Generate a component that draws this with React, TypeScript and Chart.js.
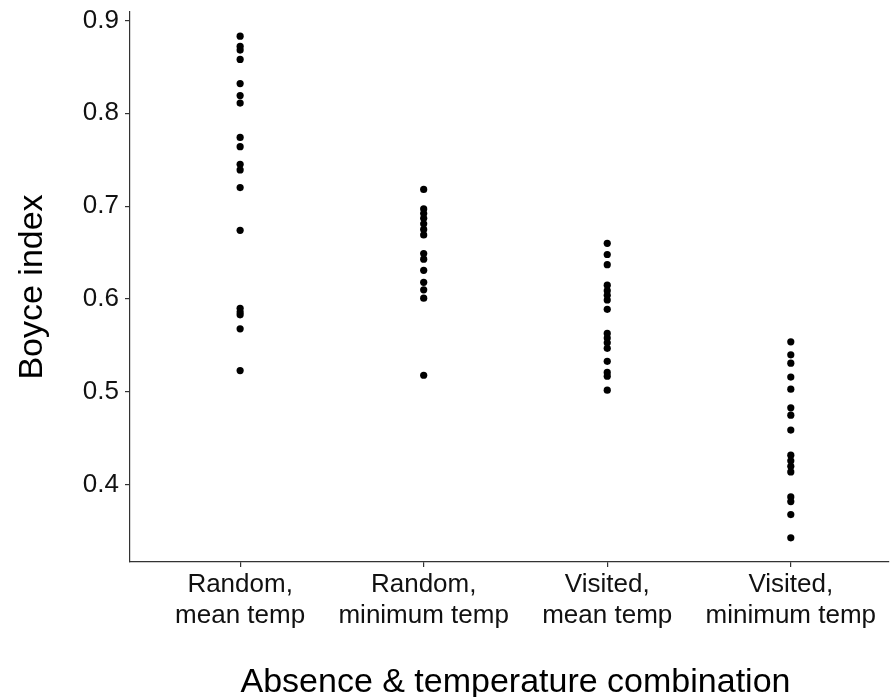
import React, { useEffect, useRef } from "react";
import { Chart, registerables } from "chart.js";

Chart.register(...registerables);

const categories = ["Random,\nmean temp", "Random,\nminimum temp", "Visited,\nmean temp", "Visited,\nminimum temp"];

const randomMean = [0.883, 0.872, 0.868, 0.858, 0.832, 0.819, 0.811, 0.774, 0.764, 0.745, 0.739, 0.720, 0.674, 0.590, 0.586, 0.583, 0.568, 0.523];
const randomMin = [0.718, 0.697, 0.692, 0.687, 0.681, 0.675, 0.669, 0.649, 0.643, 0.631, 0.618, 0.610, 0.601, 0.518];
const visitedMean = [0.660, 0.648, 0.637, 0.615, 0.609, 0.604, 0.599, 0.589, 0.563, 0.558, 0.553, 0.547, 0.533, 0.521, 0.517, 0.502];
const visitedMin = [0.554, 0.540, 0.531, 0.516, 0.503, 0.483, 0.475, 0.459, 0.432, 0.426, 0.420, 0.414, 0.387, 0.382, 0.368, 0.343];

const yTicks = [0.4, 0.5, 0.6, 0.7, 0.8, 0.9];

const X_TITLE = "Absence & temperature combination";
const FONT = "'Liberation Sans', Arial, sans-serif";

const X_MIN = -0.6;
const X_MAX = 3.535;
const PANEL_MAX = 3.6;

const xTitlePlugin = {
  id: "xTitle",
  afterDraw(chart: any) {
    const sx = chart.scales.x;
    const cx = (sx.getPixelForValue(X_MIN) + sx.getPixelForValue(PANEL_MAX)) / 2;
    const ctx = chart.ctx;
    ctx.save();
    ctx.font = `34px ${FONT}`;
    ctx.fillStyle = "#000";
    ctx.textAlign = "center";
    ctx.textBaseline = "alphabetic";
    ctx.fillText(X_TITLE, cx, chart.height - 5);
    ctx.restore();
  },
};

export default function App() {
  const ref = useRef<HTMLCanvasElement | null>(null);
  useEffect(() => {
    document.body.style.margin = "0";
    const groups = [randomMean, randomMin, visitedMean, visitedMin];
    const points: { x: number; y: number }[] = [];
    groups.forEach((g, i) => g.forEach((v) => points.push({ x: i, y: v })));
    const chart = new Chart(ref.current as HTMLCanvasElement, {
      type: "scatter",
      data: {
        datasets: [
          {
            data: points,
            backgroundColor: "#000",
            borderColor: "#000",
            pointRadius: 3.6,
            borderWidth: 0,
          },
        ],
      },
      options: {
        animation: false,
        responsive: false,
        layout: { padding: { top: 12, left: 0, right: 0, bottom: 0 } },
        plugins: { legend: { display: false }, tooltip: { enabled: false } },
        scales: {
          x: {
            type: "linear",
            min: X_MIN,
            max: X_MAX,
            afterBuildTicks: (scale: any) => {
              scale.ticks = categories.map((_, i) => ({ value: i }));
            },
            afterFit: (scale: any) => {
              scale.height = 135;
              scale.paddingLeft = 0;
              scale.paddingRight = 0;
            },
            grid: { drawOnChartArea: false, drawTicks: true, tickLength: 5, color: "#333", lineWidth: 1.2 },
            border: { display: true, color: "#333", width: 1.2 },
            ticks: {
              autoSkip: false,
              maxRotation: 0,
              padding: 2,
              color: "#111",
              font: { family: FONT, size: 26, lineHeight: 1.2 },
              callback: (v: any) => {
                const c = categories[Math.round(Number(v))];
                return c ? c.split("\n") : "";
              },
            },
            title: { display: false },
          },
          y: {
            min: 0.317,
            max: 0.909,
            afterBuildTicks: (scale: any) => {
              scale.ticks = yTicks.map((v) => ({ value: v }));
            },
            afterFit: (scale: any) => {
              scale.width = 130;
              scale.paddingTop = 0;
              scale.paddingBottom = 0;
            },
            grid: { drawOnChartArea: false, drawTicks: true, tickLength: 5, color: "#333", lineWidth: 1.2 },
            border: { display: true, color: "#333", width: 1.2 },
            ticks: {
              padding: 6,
              color: "#111",
              font: { family: FONT, size: 26 },
              callback: (v: any) => Number(v).toFixed(1),
            },
            title: {
              display: true,
              text: "Boyce index",
              color: "#000",
              font: { family: FONT, size: 34 },
              padding: { top: 12, bottom: 0 },
            },
          },
        },
      },
      plugins: [xTitlePlugin],
    });
    return () => chart.destroy();
  }, []);
  return (
    <div style={{ width: 893, height: 697, background: "#fff" }}>
      <canvas ref={ref} width={893} height={697} style={{ width: 893, height: 697, display: "block" }} />
    </div>
  );
}
